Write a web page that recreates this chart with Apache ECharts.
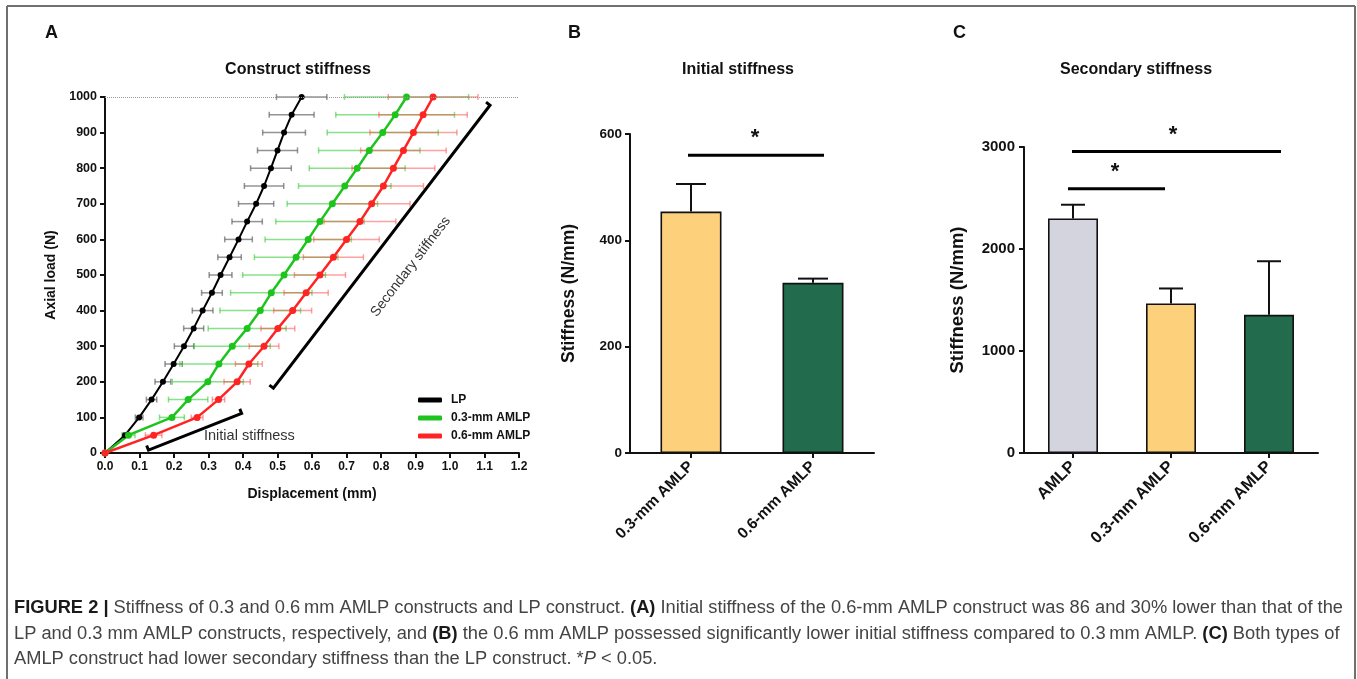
<!DOCTYPE html>
<html><head><meta charset="utf-8">
<script src="https://cdn.jsdelivr.net/npm/echarts@6/dist/echarts.min.js"></script>
<style>html,body{margin:0;padding:0;background:#fff}#c{width:1357px;height:679px}</style>
</head><body><div id="c"></div>
<script>
// ---------- Panel A data: load (N) vs displacement (mm), mean and SD ----------
const loads = [0,50,100,150,200,250,300,350,400,450,500,550,600,650,700,750,800,850,900,950,1000];
const lpDisp = [0,0.058,0.099,0.135,0.168,0.199,0.229,0.257,0.283,0.310,0.335,0.361,0.387,0.412,0.438,0.461,0.481,0.500,0.519,0.541,0.570];
const lpSD = [0,0.005,0.011,0.015,0.023,0.025,0.028,0.029,0.030,0.030,0.033,0.034,0.040,0.044,0.051,0.057,0.059,0.058,0.062,0.065,0.073];
const amlp03Disp = [0,0.068,0.194,0.241,0.298,0.330,0.369,0.412,0.450,0.482,0.519,0.554,0.589,0.623,0.659,0.695,0.731,0.766,0.805,0.841,0.874];
const amlp03SD = [0,0.019,0.036,0.057,0.103,0.113,0.110,0.113,0.117,0.118,0.120,0.121,0.125,0.128,0.131,0.134,0.139,0.147,0.161,0.172,0.180];
const amlp06Disp = [0,0.141,0.267,0.329,0.383,0.417,0.461,0.501,0.544,0.583,0.623,0.662,0.700,0.739,0.773,0.807,0.836,0.865,0.894,0.922,0.951];
const amlp06SD = [0,0.024,0.017,0.018,0.038,0.039,0.043,0.049,0.055,0.064,0.074,0.087,0.095,0.104,0.111,0.116,0.120,0.124,0.126,0.128,0.130];
const seriesNamesA = ['LP','0.3-mm AMLP','0.6-mm AMLP'];

// ---------- Panel B data: initial stiffness ----------
const categoriesB = ['0.3-mm AMLP','0.6-mm AMLP'];
const meanB = [454, 320];
const sdB = [52, 8];

// ---------- Panel C data: secondary stiffness ----------
const categoriesC = ['AMLP','0.3-mm AMLP','0.6-mm AMLP'];
const meanC = [2300, 1466, 1355];
const sdC = [134, 147, 525];

const FONT = '"Liberation Sans", Arial, Helvetica, sans-serif';
const chart = echarts.init(document.getElementById('c'), null, {renderer:'canvas'});

function hErr(color){
  return function(params, api){
    const x = api.value(0), y = api.value(1), s = api.value(2);
    if (!s) return null;
    const p1 = api.coord([x - s, y]), p2 = api.coord([x + s, y]);
    const h = 3;
    const st = {stroke: color, lineWidth: 1.5};
    return {type:'group', children:[
      {type:'line', shape:{x1:p1[0],y1:p1[1],x2:p2[0],y2:p2[1]}, style:st},
      {type:'line', shape:{x1:p1[0],y1:p1[1]-h,x2:p1[0],y2:p1[1]+h}, style:st},
      {type:'line', shape:{x1:p2[0],y1:p2[1]-h,x2:p2[0],y2:p2[1]+h}, style:st}
    ]};
  };
}
function vErr(capHalf){
  return function(params, api){
    const c = api.value(0), m = api.value(1), s = api.value(2);
    const p0 = api.coord([c, m]), p1 = api.coord([c, m + s]);
    const st = {stroke:'#111', lineWidth: 2};
    return {type:'group', children:[
      {type:'line', shape:{x1:p0[0],y1:p0[1],x2:p1[0],y2:p1[1]}, style:st},
      {type:'line', shape:{x1:p1[0]-capHalf,y1:p1[1],x2:p1[0]+capHalf,y2:p1[1]}, style:st}
    ]};
  };
}
const zip = (xs, ys) => xs.map((x,i)=>[x, ys[i]]);
const errRows = (xs, sds) => xs.map((x,i)=>[x, loads[i], sds[i]]);
const plain = v => String(v);

const axisLineStyle = {show:true, lineStyle:{color:'#111', width:2}};
const tickStyle = {show:true, inside:false, length:5, lineStyle:{color:'#111', width:2}};

const option = {
  animation:false,
  backgroundColor:'#fff',
  grid:[
    {left:105, top:97, width:414, height:356},
    {left:630, top:134, width:244, height:319},
    {left:1024, top:147, width:294, height:306}
  ],
  xAxis:[
    {gridIndex:0, type:'value', min:0, max:1.2, interval:0.1,
     axisLine:axisLineStyle, axisTick:tickStyle, splitLine:{show:false},
     axisLabel:{formatter:v=>v.toFixed(1), fontFamily:FONT, fontWeight:'bold', fontSize:12, color:'#111', margin:8, showMinLabel:true, showMaxLabel:true},
     name:'Displacement (mm)', nameLocation:'middle', nameGap:34,
     nameTextStyle:{fontFamily:FONT, fontWeight:'bold', fontSize:14, color:'#111'}},
    {gridIndex:1, type:'category', data:categoriesB, boundaryGap:true,
     axisLine:axisLineStyle, axisTick:{show:true, alignWithLabel:true, length:5, lineStyle:{color:'#111', width:2}},
     axisLabel:{interval:0, rotate:45, fontFamily:FONT, fontWeight:'bold', fontSize:15.5, color:'#111', margin:11}},
    {gridIndex:2, type:'category', data:categoriesC, boundaryGap:true,
     axisLine:axisLineStyle, axisTick:{show:true, alignWithLabel:true, length:5, lineStyle:{color:'#111', width:2}},
     axisLabel:{interval:0, rotate:45, fontFamily:FONT, fontWeight:'bold', fontSize:16.5, color:'#111', margin:11}}
  ],
  yAxis:[
    {gridIndex:0, type:'value', min:0, max:1000, interval:100,
     axisLine:axisLineStyle, axisTick:tickStyle, splitLine:{show:false},
     axisLabel:{formatter:plain, fontFamily:FONT, fontWeight:'bold', fontSize:12.5, color:'#111', margin:8, showMinLabel:true, showMaxLabel:true},
     name:'Axial load (N)', nameLocation:'middle', nameGap:47, nameRotate:90,
     nameTextStyle:{fontFamily:FONT, fontWeight:'bold', fontSize:14, color:'#111'}},
    {gridIndex:1, type:'value', min:0, max:600, interval:200,
     axisLine:axisLineStyle, axisTick:tickStyle, splitLine:{show:false},
     axisLabel:{formatter:plain, fontFamily:FONT, fontWeight:'bold', fontSize:13.5, color:'#111', margin:8, showMinLabel:true, showMaxLabel:true},
     name:'Stiffness (N/mm)', nameLocation:'middle', nameGap:52, nameRotate:90,
     nameTextStyle:{fontFamily:FONT, fontWeight:'bold', fontSize:17.5, color:'#111'}},
    {gridIndex:2, type:'value', min:0, max:3000, interval:1000,
     axisLine:axisLineStyle, axisTick:tickStyle, splitLine:{show:false},
     axisLabel:{formatter:plain, fontFamily:FONT, fontWeight:'bold', fontSize:15, color:'#111', margin:9, showMinLabel:true, showMaxLabel:true},
     name:'Stiffness (N/mm)', nameLocation:'middle', nameGap:57, nameRotate:90,
     nameTextStyle:{fontFamily:FONT, fontWeight:'bold', fontSize:18.5, color:'#111'}}
  ],
  legend:{
    data:seriesNamesA.map(n=>({name:n, icon:'roundRect'})),
    orient:'vertical', left:413, top:389, itemWidth:24, itemHeight:5, itemGap:6,
    textStyle:{fontFamily:FONT, fontWeight:'bold', fontSize:12, color:'#111', padding:[0,0,0,4]},
    selectedMode:false
  },
  series:[
    {name:'LP SD', type:'custom', xAxisIndex:0, yAxisIndex:0, renderItem:hErr('rgba(90,90,90,0.65)'), encode:{x:0,y:1}, data:errRows(lpDisp, lpSD), z:1, silent:true},
    {name:'0.3 SD', type:'custom', xAxisIndex:0, yAxisIndex:0, renderItem:hErr('rgba(40,200,40,0.55)'), encode:{x:0,y:1}, data:errRows(amlp03Disp, amlp03SD), z:1, silent:true},
    {name:'0.6 SD', type:'custom', xAxisIndex:0, yAxisIndex:0, renderItem:hErr('rgba(255,70,70,0.5)'), encode:{x:0,y:1}, data:errRows(amlp06Disp, amlp06SD), z:1, silent:true},
    {name:seriesNamesA[0], type:'line', xAxisIndex:0, yAxisIndex:0, data:zip(lpDisp, loads),
     symbol:'circle', symbolSize:6, color:'#000', lineStyle:{width:2, color:'#000'}, itemStyle:{color:'#000'}, z:3,
     markLine:{silent:true, symbol:'none', label:{show:false}, lineStyle:{type:'dotted', color:'#9a9a9a', width:1}, data:[{yAxis:1000}]}},
    {name:seriesNamesA[1], type:'line', xAxisIndex:0, yAxisIndex:0, data:zip(amlp03Disp, loads),
     symbol:'circle', symbolSize:7, color:'#1ec41e', lineStyle:{width:2.5, color:'#1ec41e'}, itemStyle:{color:'#1ec41e'}, z:3},
    {name:seriesNamesA[2], type:'line', xAxisIndex:0, yAxisIndex:0, data:zip(amlp06Disp, loads),
     symbol:'circle', symbolSize:7, color:'#ff2424', lineStyle:{width:2.5, color:'#ff2424'}, itemStyle:{color:'#ff2424'}, z:3},
    {name:'B bars', type:'bar', xAxisIndex:1, yAxisIndex:1, barWidth:61,
     data:meanB.map((v,i)=>({value:v, itemStyle:{color:['#fdd07c','#226b4c'][i]}})),
     itemStyle:{borderColor:'#111', borderWidth:1.6}, z:2},
    {name:'B err', type:'custom', xAxisIndex:1, yAxisIndex:1, renderItem:vErr(15), encode:{x:0,y:1},
     data:meanB.map((v,i)=>[i, v, sdB[i]]), z:1},
    {name:'C bars', type:'bar', xAxisIndex:2, yAxisIndex:2, barWidth:50,
     data:meanC.map((v,i)=>({value:v, itemStyle:{color:['#d4d4df','#fdd07c','#226b4c'][i]}})),
     itemStyle:{borderColor:'#111', borderWidth:1.6}, z:2},
    {name:'C err', type:'custom', xAxisIndex:2, yAxisIndex:2, renderItem:vErr(12), encode:{x:0,y:1},
     data:meanC.map((v,i)=>[i, v, sdC[i]]), z:1}
  ]
};
chart.setOption(option);

// ---------- annotations, computed through the axes ----------
const pA = (x, y) => chart.convertToPixel({xAxisIndex:0, yAxisIndex:0}, [x, y]);
const pB = (c, v) => chart.convertToPixel({xAxisIndex:1, yAxisIndex:1}, [c, v]);
const pC = (c, v) => chart.convertToPixel({xAxisIndex:2, yAxisIndex:2}, [c, v]);

function bracket(a, b){
  const dx = b[0]-a[0], dy = b[1]-a[1], L = Math.hypot(dx, dy);
  const nx = dy/L*5, ny = -dx/L*5;
  const sx = -Math.abs(nx), sy = -Math.abs(ny);
  return {type:'polyline', shape:{points:[[a[0]+sx,a[1]+sy], a, b, [b[0]+sx,b[1]+sy]]},
          style:{stroke:'#000', lineWidth:3, fill:null, lineJoin:'miter'}, z:10};
}
const iA = pA(0.126, 8), iB = pA(0.396, 111);
const sA = pA(0.488, 182), sB = pA(1.116, 977);
const sMid = [(sA[0]+sB[0])/2 + 29, (sA[1]+sB[1])/2 + 20];
const sAng = Math.atan2(-(sB[1]-sA[1]), sB[0]-sA[0]);

function sigLine(p1, p2, starX){
  return [
    {type:'line', shape:{x1:p1[0], y1:p1[1], x2:p2[0], y2:p2[1]}, style:{stroke:'#000', lineWidth:3}, z:10},
    {type:'text', x:starX, y:p1[1]-6, style:{text:'*', font:'bold 22px '+FONT, fill:'#111', align:'center', verticalAlign:'bottom'}, z:10}
  ];
}
const b0 = pB(0, 560), b1 = pB(1, 560);
const c0a = pC(0, 2590), c1a = pC(1, 2590);
const c0b = pC(0, 2955), c2b = pC(2, 2955);

// caption
const cap1 = [['FIGURE 2 |',1],[' Stiffness of 0.3 and 0.6\u2009mm AMLP constructs and LP construct. ',0],['(A)',1],[' Initial stiffness of the 0.6-mm AMLP construct was 86 and 30% lower than that of the',0]];
const cap2 = [['LP and 0.3 mm AMLP constructs, respectively, and ',0],['(B)',1],[' the 0.6 mm AMLP possessed significantly lower initial stiffness compared to 0.3\u2009mm AMLP. ',0],['(C)',1],[' Both types of',0]];
const cap3 = [['AMLP construct had lower secondary stiffness than the LP construct. *',0],['P',2],[' < 0.05.',0]];
const capFs = 18.3;
function richText(segs){ return segs.map(([t,b])=> b===1?'{b|'+t+'}':(b===2?'{i|'+t+'}':t)).join(''); }
const capRich = {b:{fontWeight:'bold', fill:'#1a1a1a', fontSize:capFs, fontFamily:FONT}, i:{fontStyle:'italic', fontSize:capFs, fontFamily:FONT, fill:'#444'}};
function capLine(segs, y){
  return {type:'text', x:14, y:y, style:{text:richText(segs), rich:capRich, fontSize:capFs, fontFamily:FONT, fill:'#444', verticalAlign:'middle', align:'left'}};
}

const frame = {stroke:'#707070', lineWidth:2};
chart.setOption({graphic:[
  {type:'line', shape:{x1:7, y1:6, x2:1355, y2:6}, style:frame},
  {type:'line', shape:{x1:7, y1:6, x2:7, y2:679}, style:frame},
  {type:'line', shape:{x1:1355, y1:6, x2:1355, y2:679}, style:frame},
  {type:'text', x:45, y:33, style:{text:'A', font:'bold 18px '+FONT, fill:'#111', verticalAlign:'middle'}},
  {type:'text', x:568, y:33, style:{text:'B', font:'bold 18px '+FONT, fill:'#111', verticalAlign:'middle'}},
  {type:'text', x:953, y:33, style:{text:'C', font:'bold 18px '+FONT, fill:'#111', verticalAlign:'middle'}},
  {type:'text', x:298, y:70, style:{text:'Construct stiffness', font:'bold 16px '+FONT, fill:'#111', align:'center', verticalAlign:'middle'}},
  {type:'text', x:738, y:70, style:{text:'Initial stiffness', font:'bold 16px '+FONT, fill:'#111', align:'center', verticalAlign:'middle'}},
  {type:'text', x:1136, y:70, style:{text:'Secondary stiffness', font:'bold 16px '+FONT, fill:'#111', align:'center', verticalAlign:'middle'}},
  bracket(iA, iB),
  bracket(sA, sB),
  {type:'text', x:204, y:436, style:{text:'Initial stiffness', font:'14.5px '+FONT, fill:'#333', verticalAlign:'middle'}},
  {type:'text', x:sMid[0], y:sMid[1], rotation:sAng, style:{text:'Secondary stiffness', font:'14px '+FONT, fill:'#333', align:'center', verticalAlign:'middle'}},
  ...sigLine([b0[0]-3, b0[1]], [b1[0]+11, b1[1]], 755),
  ...sigLine([c0a[0]-5, c0a[1]], [c1a[0]-6, c1a[1]], 1115),
  ...sigLine([c0b[0]-1, c0b[1]], [c2b[0]+12, c2b[1]], 1173),
  capLine(cap1, 608),
  capLine(cap2, 634),
  capLine(cap3, 659)
]});
</script></body></html>
